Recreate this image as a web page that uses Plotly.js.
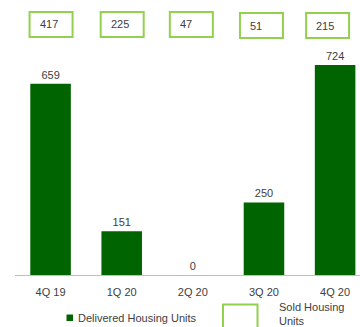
<!DOCTYPE html>
<html>
<head>
<meta charset="utf-8">
<script src="https://cdn.plot.ly/plotly-3.0.1.min.js"></script>
<style>html,body{margin:0;padding:0;background:#fff;}#chart{width:360px;height:327px;}</style>
</head>
<body>
<div id="chart"></div>
<script>
const categories = ["4Q 19", "1Q 20", "2Q 20", "3Q 20", "4Q 20"];
const delivered = [659, 151, 0, 250, 724];
const sold = [417, 225, 47, 51, 215];
const soldShift = [0, 0, -2, -3, -8];

const FONT = "Liberation Sans, Arial, sans-serif";
const TXT = "#404040";
const BOX = "#92D050";

// layout geometry (pixels)
const L = 15, T = 40, B = 52, W = 360, H = 327;
const pw = W - L, ph = H - T - B;
const axisY = T + ph;
const px2x = p => (p - L) / pw;
const py2y = p => (axisY - p) / ph;

const shapes = [];
const annotations = [];
categories.forEach((c, i) => {
  shapes.push({
    type: "rect", xref: "x", yref: "paper", xsizemode: "pixel", xanchor: i,
    x0: -21 + soldShift[i], x1: 22 + soldShift[i],
    y0: py2y(37 + (i >= 3 ? 1 : 0)), y1: py2y(12 + (i >= 3 ? 1 : 0)),
    line: {color: BOX, width: 2}, fillcolor: "rgba(0,0,0,0)"
  });
  annotations.push({
    x: i, xref: "x", yref: "paper", y: py2y(24.5 + (i >= 3 ? 1 : 0)),
    xanchor: "left", yanchor: "middle", xshift: -21 + soldShift[i] + 8,
    text: String(sold[i]), showarrow: false,
    font: {family: FONT, size: 11, color: TXT}
  });
});

// legend (manual)
shapes.push({type: "rect", xref: "paper", yref: "paper",
  x0: px2x(66.5), x1: px2x(73), y0: py2y(321), y1: py2y(314.5),
  fillcolor: "#006400", line: {width: 0}});
annotations.push({xref: "paper", yref: "paper", x: px2x(76), y: py2y(318),
  xanchor: "left", yanchor: "middle", showarrow: false,
  text: "Delivered Housing Units", font: {family: FONT, size: 11, color: TXT}});
shapes.push({type: "rect", xref: "paper", yref: "paper",
  x0: px2x(223), x1: px2x(257.5), y0: py2y(332), y1: py2y(304.5),
  fillcolor: "rgba(0,0,0,0)", line: {color: BOX, width: 2}});
annotations.push({xref: "paper", yref: "paper", x: px2x(277), y: py2y(313.5),
  xanchor: "left", yanchor: "middle", showarrow: false, align: "left",
  text: "Sold Housing<br>Units", font: {family: FONT, size: 11, color: TXT}});

const trace = {
  type: "bar", x: categories, y: delivered,
  marker: {color: "#006400"}, width: 0.57,
  text: delivered.map(String), textposition: "outside", cliponaxis: false,
  textfont: {family: FONT, size: 11, color: TXT},
  hoverinfo: "none", showlegend: false
};

const layout = {
  width: W, height: H,
  margin: {l: L, r: 0, t: T, b: B, pad: 0},
  paper_bgcolor: "#fff", plot_bgcolor: "#fff",
  showlegend: false,
  font: {family: FONT, size: 11, color: TXT},
  xaxis: {
    type: "category", range: [-0.5, 4.35], showgrid: false, zeroline: false,
    showline: true, linecolor: "#bfbfbf", linewidth: 1,
    ticks: "outside", ticklen: 7, tickcolor: "rgba(0,0,0,0)",
    tickfont: {family: FONT, size: 11, color: TXT}
  },
  yaxis: {range: [0, 810], visible: false, showgrid: false, zeroline: false},
  shapes: shapes,
  annotations: annotations
};

Plotly.newPlot("chart", [trace], layout, {displayModeBar: false, staticPlot: true});
</script>
</body>
</html>
